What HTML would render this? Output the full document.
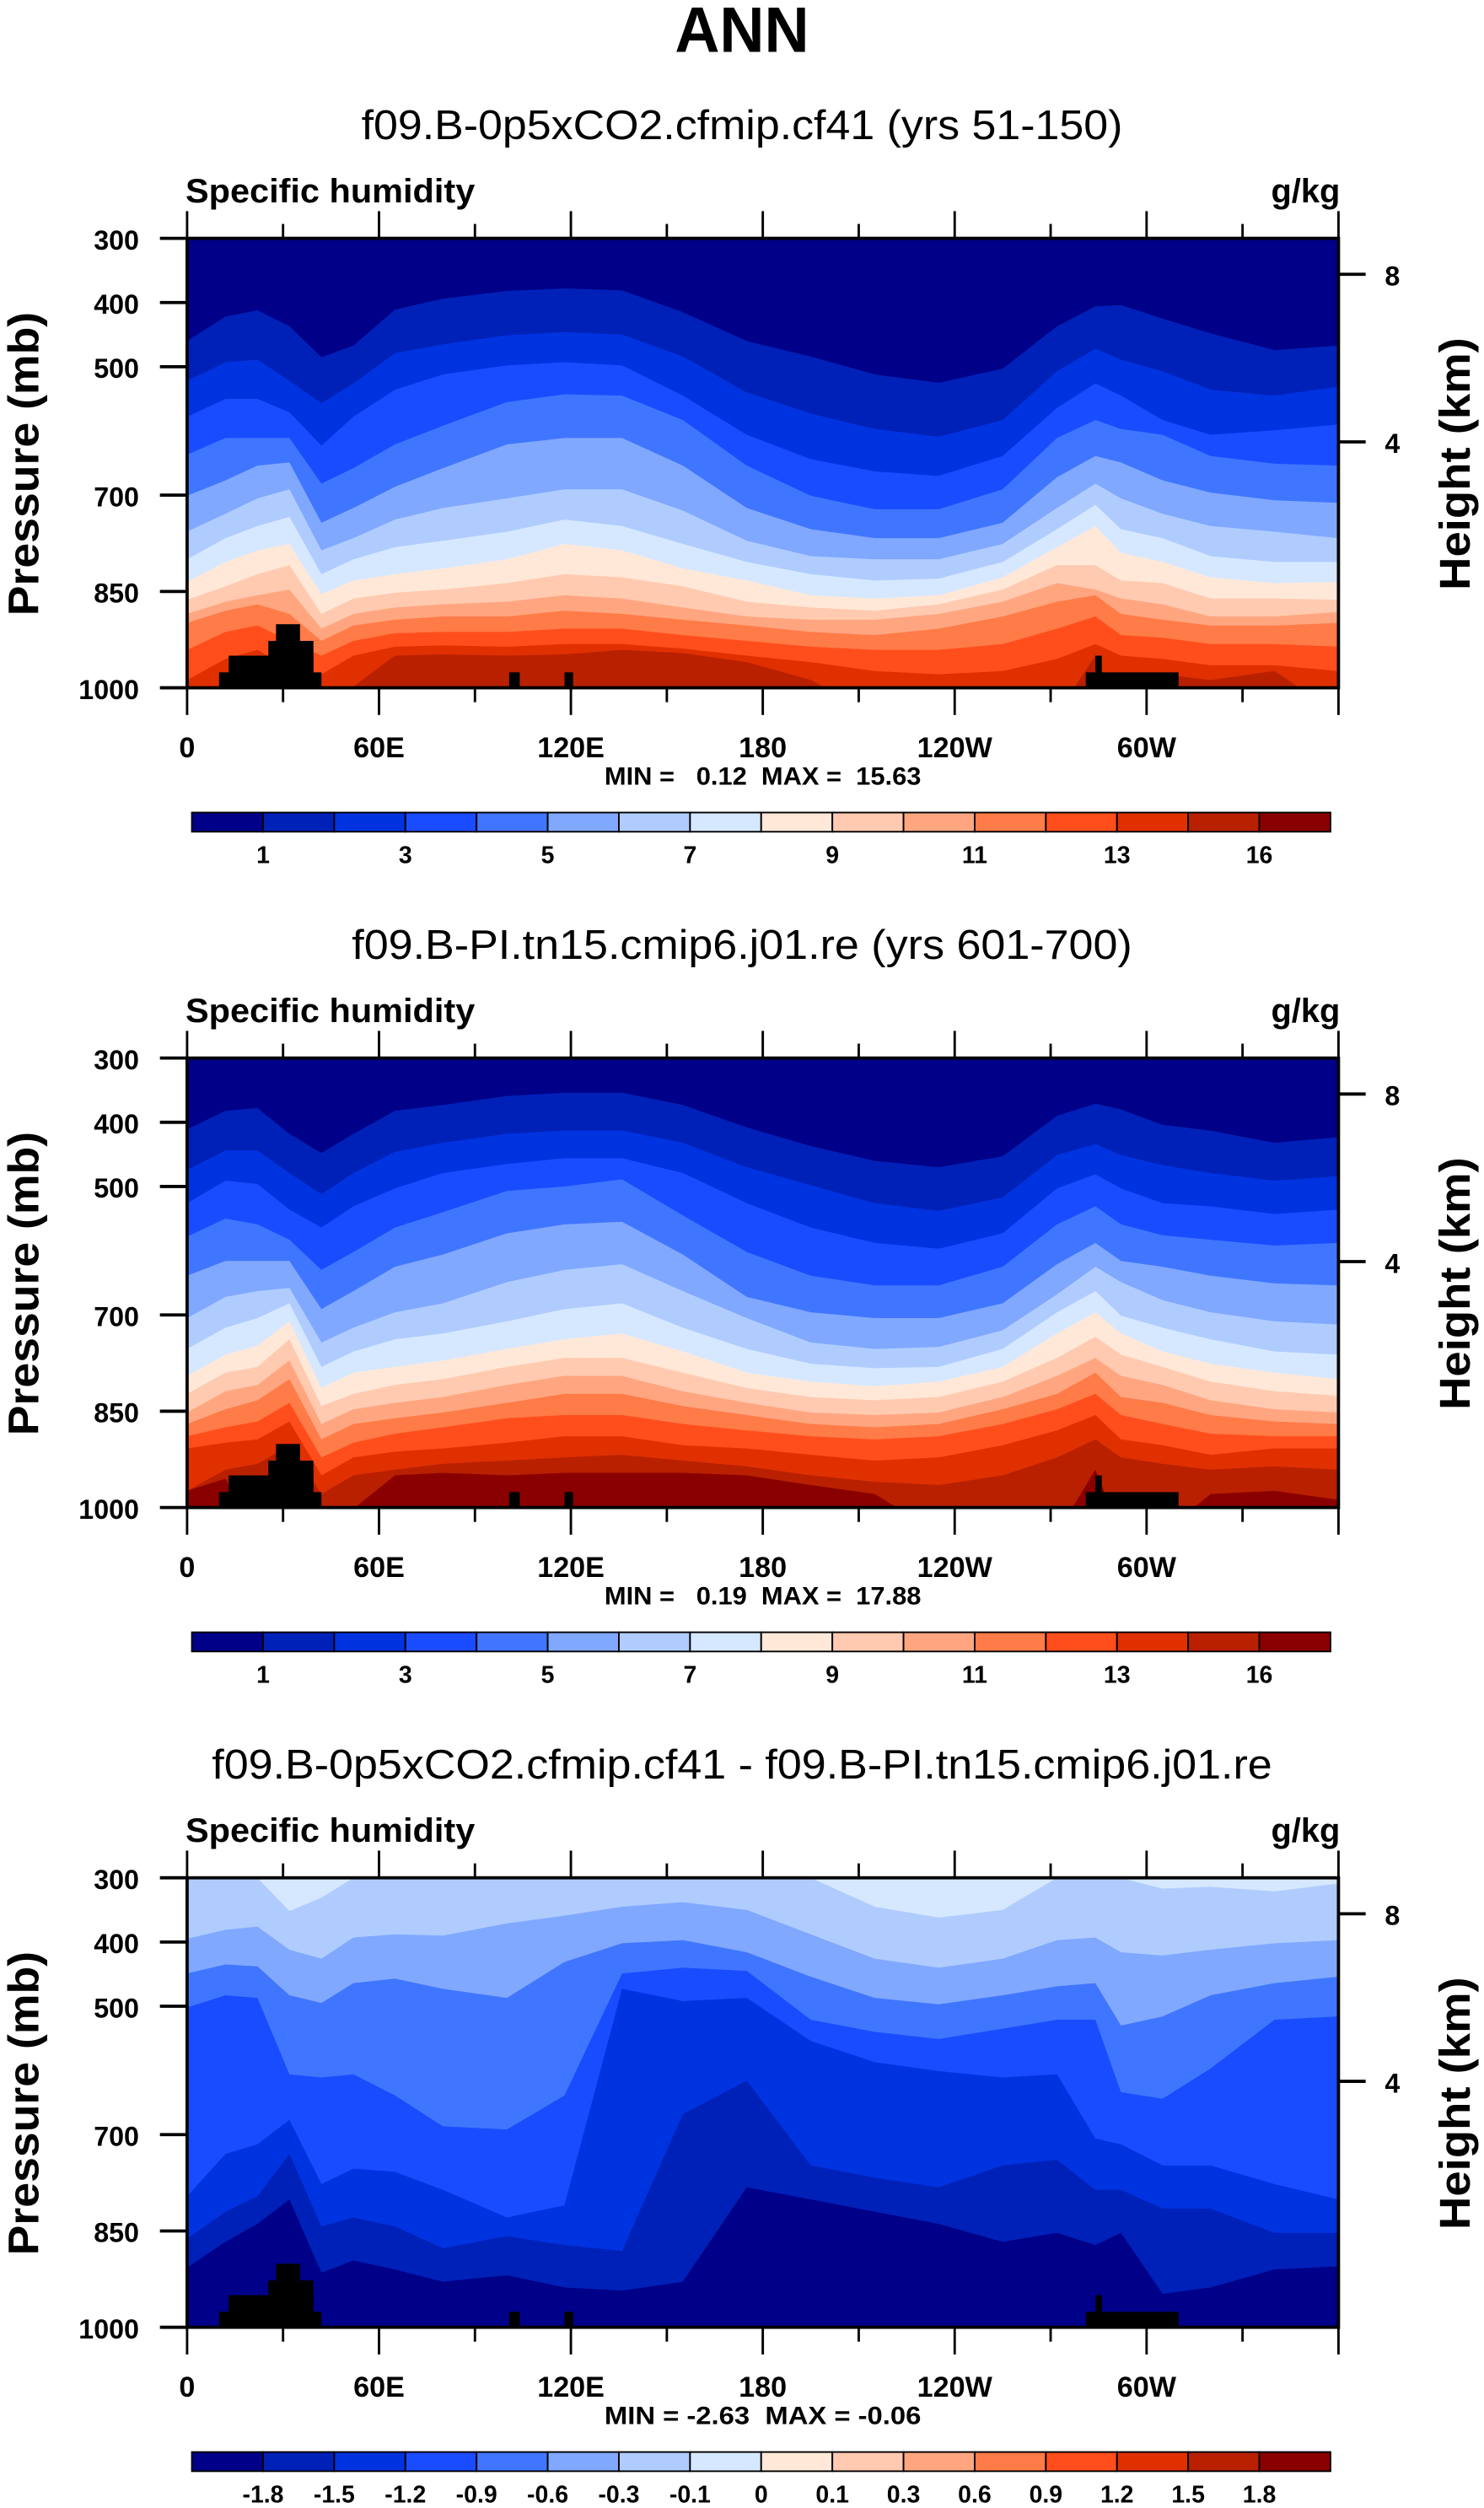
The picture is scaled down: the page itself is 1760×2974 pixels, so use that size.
<!DOCTYPE html>
<html><head><meta charset="utf-8"><title>ANN Specific humidity</title>
<style>
html,body{margin:0;padding:0;background:#fff;}
svg{display:block;}
text{font-family:"Liberation Sans",Arial,sans-serif;fill:#000;}
.pre{white-space:pre;}
</style></head>
<body>
<svg id="fig" xmlns="http://www.w3.org/2000/svg" width="1760" height="2974" viewBox="0 0 928 1568" preserveAspectRatio="none">
<text x="464" y="32.5" text-anchor="middle" font-size="40" font-weight="bold" textLength="84" lengthAdjust="spacingAndGlyphs">ANN</text>
</svg>
<script>
// ===== data =====
const lons = [0,12,22,32,42,52,65,80,100,118,136,155,175,195,215,235,255,272,284,292,305,320,340,360];
const humLevels = [1,2,3,4,5,6,7,8,9,10,11,12,13,14,16];
const diffLevels = [-1.8,-1.5,-1.2,-0.9,-0.6,-0.3,-0.1,0,0.1,0.3,0.6,0.9,1.2,1.5,1.8];
const palette = ["#000088","#0021b8","#0033e0","#1a4cff","#4076ff","#80a8ff","#b0ccff","#d6e8ff","#ffe8d8","#ffcab0","#ffa680","#ff7b48","#ff4e1c","#e03000","#b82000","#8a0000"];
const xTickLabels = ["0","60E","120E","180","120W","60W"];
const xTickLons = [0,60,120,180,240,300];
const pTicks = [300,400,500,700,850,1000];
const hTickLabels = ["8","4"];
const hTickP = [356,617];
const humBarLabels = ["1","","3","","5","","7","","9","","11","","13","","16"];
const diffBarLabels = ["-1.8","-1.5","-1.2","-0.9","-0.6","-0.3","-0.1","0","0.1","0.3","0.6","0.9","1.2","1.5","1.8"];
const p1b1 = [460,422,412,437,485,467,411,394,382,378,381,415,460,484,512,525,503,437,406,404,425,448,474,467];
const p1b2 = [522,493,489,522,557,526,479,465,451,446,450,484,540,573,597,609,583,507,472,489,507,536,545,531];
const p1b3 = [578,550,550,571,623,578,536,512,498,493,498,545,606,644,663,670,639,564,526,545,583,606,599,590];
const p1b4 = [637,611,611,611,682,658,621,592,555,543,545,583,654,701,722,722,691,611,583,597,606,639,651,654];
const p1b5 = [701,677,654,649,743,720,687,658,621,611,611,654,720,753,767,767,743,672,639,649,677,696,708,712];
const p1b6 = [757,729,705,691,786,767,738,720,705,691,691,724,771,795,800,800,776,720,682,705,729,748,757,767];
const p1b7 = [800,767,748,734,823,800,781,771,757,738,748,776,804,823,833,830,804,753,715,753,767,795,804,804];
const p1b8 = [835,804,786,776,854,833,823,814,800,776,786,814,833,856,861,856,828,781,748,790,804,828,837,835];
const p1b9 = [863,842,823,809,885,861,852,847,837,823,828,842,866,875,880,870,847,809,809,833,837,861,861,863];
const p1b10 = [885,866,856,847,908,885,875,870,866,856,861,875,889,894,894,885,866,837,847,861,870,889,889,882];
const p1b11 = [899,880,870,885,927,903,894,889,889,880,885,894,903,913,918,908,889,866,856,885,894,903,903,899];
const p1b12 = [941,913,903,927,950,927,915,913,913,908,908,918,927,936,941,941,932,908,889,918,922,932,932,936];
const p1b13 = [988,955,941,969,979,950,936,934,936,932,932,939,950,960,974,979,974,955,932,950,955,965,965,974];
const p1b14 = [1040,1040,1040,1040,1040,998,950,948,950,948,941,946,960,988,1040,1040,1040,1040,950,1040,979,988,974,1040];
const p1b16 = [1040,1040,1040,1040,1040,1040,1040,1040,1040,1040,1040,1040,1040,1040,1040,1040,1040,1040,1040,1040,1040,1040,1040,1040];
const p2b1 = [411,382,378,418,448,418,382,373,359,354,354,373,408,437,460,470,453,390,371,380,404,413,432,423];
const p2b2 = [474,444,444,479,512,479,446,432,418,413,413,432,470,498,526,538,517,451,434,451,467,479,491,484];
const p2b3 = [526,491,496,536,564,531,503,479,465,456,456,479,526,564,588,597,573,503,481,503,526,531,543,536];
const p2b4 = [578,550,559,583,630,602,564,540,507,500,489,545,602,639,654,654,625,559,531,559,576,583,592,588];
const p2b5 = [639,616,616,616,691,663,625,606,573,559,555,606,672,696,705,705,682,621,588,616,625,639,651,654];
const p2b6 = [705,672,663,658,743,720,696,682,649,630,621,663,705,743,753,750,724,668,625,649,677,696,710,715];
const p2b7 = [753,720,705,682,781,757,738,729,710,691,682,720,753,776,783,781,753,696,663,701,720,738,757,762];
const p2b8 = [795,762,748,710,814,790,781,771,753,738,729,757,790,804,811,804,781,729,696,729,757,776,790,800];
const p2b9 = [823,790,781,738,842,823,809,800,781,767,767,790,814,828,833,828,804,767,734,762,781,804,819,826];
const p2b10 = [852,819,809,771,870,847,837,828,809,795,795,819,837,852,856,852,828,795,767,795,809,833,847,852];
const p2b11 = [870,847,833,800,894,870,861,852,837,823,823,842,856,870,875,870,847,823,790,828,837,856,866,870];
const p2b12 = [889,875,866,837,922,899,885,875,861,856,856,870,880,889,894,889,870,847,823,856,870,885,889,889];
const p2b13 = [908,899,894,866,950,922,913,908,899,889,889,903,908,918,927,922,903,880,856,894,903,918,908,908];
const p2b14 = [974,941,932,903,979,950,941,932,927,922,918,927,936,950,960,965,950,922,894,922,932,941,936,941];
const p2b16 = [974,955,1040,1040,1040,1002,950,946,950,946,946,946,950,965,979,1040,1040,1040,941,1040,1040,979,974,988];
const d1 = [300,300,300,352,331,300,300,300,300,300,300,300,300,300,345,362,350,300,300,300,317,314,321,309];
const d2 = [395,381,376,412,426,393,388,390,371,359,345,338,350,388,426,440,426,397,393,416,421,412,402,397];
const d3 = [449,435,438,483,495,464,457,473,487,431,402,397,416,454,487,497,483,469,464,530,516,483,464,454];
const d4 = [502,483,487,606,611,606,639,687,692,639,449,440,445,521,540,551,535,521,521,634,644,597,521,516];
const d5 = [796,730,715,677,777,753,758,786,829,810,473,492,487,554,587,601,611,606,706,715,748,748,777,801];
const d6 = [862,820,796,730,843,829,843,877,858,872,881,668,616,748,767,782,748,739,786,786,815,815,853,853];
const d7 = [907,867,839,801,915,896,910,929,919,938,943,929,782,801,820,839,867,853,872,853,948,938,910,905];
const orogLon0 = [10,13,25.4,27.8,100.7,118,281,284];
const orogLon1 = [42,39.5,39.5,35.3,104,120.7,310,286];
const orogTopP = [976,950,927,901,976,976,976,950];

const NS = "http://www.w3.org/2000/svg";
const svg = document.getElementById("fig");
function el(tag, attrs, parent){ const e=document.createElementNS(NS,tag); for(const k in attrs) e.setAttribute(k,attrs[k]); (parent||svg).appendChild(e); return e; }
const X0=117, X1=837, PH=281;
function xS(lon){ return X0 + lon/360*(X1-X0); }
function yS(p, top){ return top + (p-300)/700*PH; }

function drawPanel(top, title, titleW, boundsList, startColor, colorsBelow, minmax, barLabels, idx){
  const g = el("g",{});
  
  
  const t = el("text",{x:464,y:top-62,"text-anchor":"middle","font-size":26,textLength:titleW,lengthAdjust:"spacingAndGlyphs"},g);
  t.textContent = title;
  
  
  const sh = el("text",{x:116,y:top-22.5,"font-size":21,"font-weight":"bold",textLength:181,lengthAdjust:"spacingAndGlyphs"},g);
  sh.textContent = "Specific humidity";
  
  
  const un = el("text",{x:838,y:top-22.5,"font-size":21,"font-weight":"bold","text-anchor":"end"},g);
  un.textContent = "g/kg";
  
  
  const cid = "clip"+idx;
  const cp = el("clipPath",{id:cid},g);
  el("rect",{x:X0,y:top,width:X1-X0,height:PH},cp);
  const plot = el("g",{"clip-path":"url(#"+cid+")"},g);
  
  
  const bg = el("rect",{x:X0,y:top,width:X1-X0,height:PH,fill:palette[startColor]},plot);
  
  
  boundsList.forEach((b,k)=>{
    let d = "M"+xS(lons[0])+","+(top+PH+20);
    for(let i=0;i<lons.length;i++){ d += " L"+xS(lons[i]).toFixed(2)+","+yS(b[i],top).toFixed(2); }
    d += " L"+xS(lons[lons.length-1])+","+(top+PH+20)+" Z";
    const p = el("path",{d:d,fill:palette[colorsBelow[k]]},plot);
    
    
  });
  for(let i=0;i<orogLon0.length;i++){
    const r = el("rect",{x:xS(orogLon0[i]),y:yS(orogTopP[i],top),width:xS(orogLon1[i])-xS(orogLon0[i]),height:yS(1000,top)-yS(orogTopP[i],top)+1,fill:"#000"},plot);
    
    
  }
  const fr = el("rect",{x:X0,y:top,width:X1-X0,height:PH,fill:"none",stroke:"#000","stroke-width":2},g);
  
  
  for(let lon=0; lon<=360; lon+=30){
    const major = lon%60===0, L = major?17:9;
    el("line",{x1:xS(lon),x2:xS(lon),y1:top,y2:top-L,stroke:"#000","stroke-width":1.5},g);
    el("line",{x1:xS(lon),x2:xS(lon),y1:top+PH,y2:top+PH+L,stroke:"#000","stroke-width":1.5},g);
  }
  xTickLons.forEach((lon,i)=>{
    const tx = el("text",{x:xS(lon),y:top+324.5,"font-size":18,"font-weight":"bold","text-anchor":"middle"},g);
    tx.textContent = xTickLabels[i];
    
    
  });
  pTicks.forEach(p=>{
    const y = yS(p,top);
    el("line",{x1:X0,x2:X0-17,y1:y,y2:y,stroke:"#000","stroke-width":2},g);
    const tx = el("text",{x:87,y:y+7,"font-size":17,"font-weight":"bold","text-anchor":"end"},g);
    tx.textContent = String(p);
    
    
  });
  hTickP.forEach((p,i)=>{
    const y = yS(p,top);
    el("line",{x1:X1,x2:X1+17,y1:y,y2:y,stroke:"#000","stroke-width":2},g);
    const tx = el("text",{x:866,y:y+7,"font-size":17,"font-weight":"bold"},g);
    tx.textContent = hTickLabels[i];
    
    
  });
  const yt = el("text",{x:0,y:0,"font-size":27,"font-weight":"bold","text-anchor":"middle",transform:"translate(24,"+(top+141)+") rotate(-90)",textLength:190,lengthAdjust:"spacingAndGlyphs"},g);
  yt.textContent = "Pressure (mb)";
  
  
  const ht = el("text",{x:0,y:0,"font-size":27,"font-weight":"bold","text-anchor":"middle",transform:"translate(919,"+(top+141)+") rotate(-90)",textLength:158,lengthAdjust:"spacingAndGlyphs"},g);
  ht.textContent = "Height (km)";
  
  
  const mm = el("text",{x:477,y:top+341.5,"font-size":15.5,"font-weight":"bold","text-anchor":"middle","class":"pre",textLength:198,lengthAdjust:"spacingAndGlyphs"},g);
  mm.textContent = minmax;
  
  
  const cb = el("g",{},g);
  
  
  const bx0=120, bx1=832, by=top+359, bh=12, bw=(bx1-bx0)/16;
  for(let i=0;i<16;i++){
    const r = el("rect",{x:bx0+i*bw,y:by,width:bw,height:bh,fill:palette[i],stroke:"#000","stroke-width":1},cb);
    
    
  }
  barLabels.forEach((lab,i)=>{
    if(!lab) return;
    const tx = el("text",{x:bx0+(i+1)*bw,y:by+31.5,"font-size":15,"font-weight":"bold","text-anchor":"middle"},cb);
    tx.textContent = lab;
    
    
  });
}

drawPanel(149, "f09.B-0p5xCO2.cfmip.cf41 (yrs 51-150)", 476,
  [p1b1,p1b2,p1b3,p1b4,p1b5,p1b6,p1b7,p1b8,p1b9,p1b10,p1b11,p1b12,p1b13,p1b14,p1b16],
  0, [1,2,3,4,5,6,7,8,9,10,11,12,13,14,15], "MIN =   0.12  MAX =  15.63", humBarLabels, 1);
drawPanel(661.5, "f09.B-PI.tn15.cmip6.j01.re (yrs 601-700)", 488,
  [p2b1,p2b2,p2b3,p2b4,p2b5,p2b6,p2b7,p2b8,p2b9,p2b10,p2b11,p2b12,p2b13,p2b14,p2b16],
  0, [1,2,3,4,5,6,7,8,9,10,11,12,13,14,15], "MIN =   0.19  MAX =  17.88", humBarLabels, 2);
drawPanel(1174, "f09.B-0p5xCO2.cfmip.cf41 - f09.B-PI.tn15.cmip6.j01.re", 663,
  [d1,d2,d3,d4,d5,d6,d7],
  7, [6,5,4,3,2,1,0], "MIN = -2.63  MAX = -0.06", diffBarLabels, 3);
</script>
</body></html>
